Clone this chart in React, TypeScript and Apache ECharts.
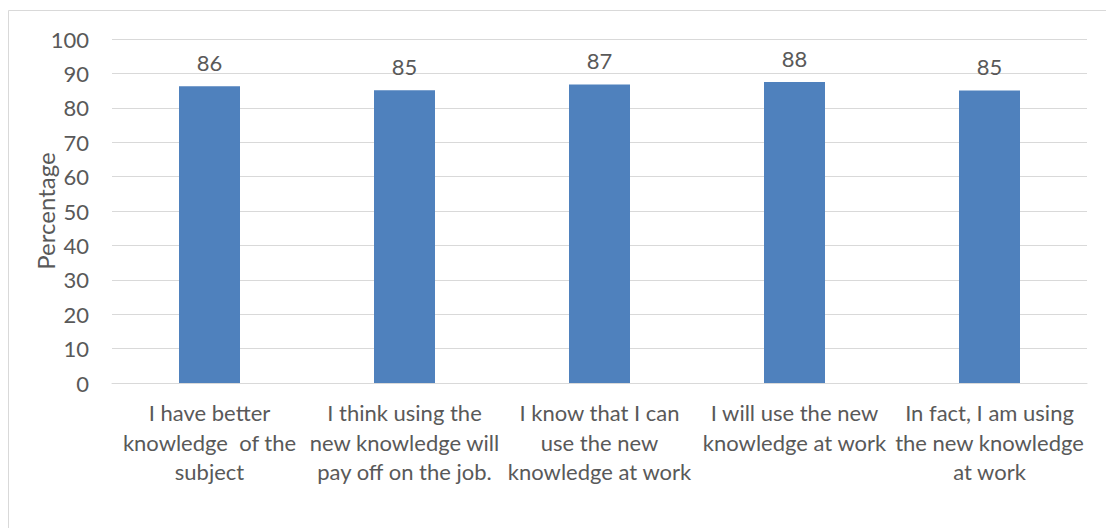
import React, { useEffect, useRef } from "react";
import * as echarts from "echarts";

const categories = [
  "I have better\nknowledge  of the\nsubject",
  "I think using the\nnew knowledge will\npay off on the job.",
  "I know that I can\nuse the new\nknowledge at work",
  "I will use the new\nknowledge at work",
  "In fact, I am using\nthe new knowledge\nat work",
];
const values = [86.3, 85.1, 86.8, 87.5, 85.0];
const yTicks = { min: 0, max: 100, interval: 10 };
const yTitle = "Percentage";

const FONT = "Lato, 'Open Sans', sans-serif";
const TEXT = "#595959";

export default function App() {
  const ref = useRef<HTMLDivElement>(null);
  useEffect(() => {
    document.body.style.margin = "0";
    const chart = echarts.init(ref.current!, null, { renderer: "svg" });
    chart.setOption({
      animation: false,
      backgroundColor: "#ffffff",
      graphic: [
        {
          type: "rect",
          shape: { x: 8.5, y: 10.5, width: 1300, height: 700 },
          style: { fill: "none", stroke: "#d9d9d9", lineWidth: 1 },
          silent: true,
        },
      ],
      grid: { left: 112, right: 19, top: 39, bottom: 145 },
      xAxis: {
        type: "category",
        data: categories,
        axisLine: { show: true, lineStyle: { color: "#d9d9d9", width: 1 } },
        axisTick: { show: false },
        axisLabel: {
          interval: 0,
          color: TEXT,
          fontFamily: FONT,
          fontSize: 22,
          lineHeight: 29.5,
          margin: 15,
          align: "center",
        },
      },
      yAxis: {
        type: "value",
        min: yTicks.min,
        max: yTicks.max,
        interval: yTicks.interval,
        name: yTitle,
        nameLocation: "middle",
        nameRotate: 90,
        nameGap: 55,
        nameMoveOverlap: false,
        nameTextStyle: { color: TEXT, fontFamily: FONT, fontSize: 24 },
        axisLine: { show: false },
        axisTick: { show: false },
        axisLabel: { color: TEXT, fontFamily: FONT, fontSize: 22, margin: 23 },
        splitLine: { show: true, lineStyle: { color: "#d9d9d9", width: 1 } },
      },
      series: [
        {
          type: "bar",
          data: values,
          barWidth: 61,
          itemStyle: { color: "#4f81bd" },
          label: {
            show: true,
            position: "top",
            distance: 13,
            color: TEXT,
            fontFamily: FONT,
            fontSize: 22,
            formatter: (p: any) => String(Math.round(p.value)),
          },
        },
      ],
    });
    return () => chart.dispose();
  }, []);
  return <div ref={ref} style={{ width: 1106, height: 528 }} />;
}
